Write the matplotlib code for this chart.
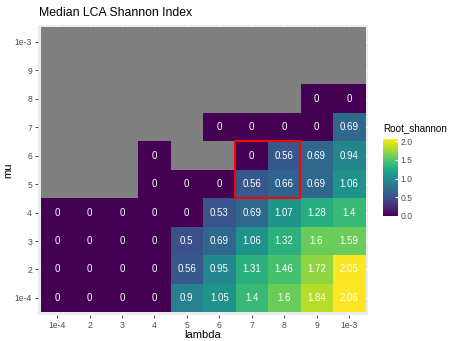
import numpy as np
import matplotlib.pyplot as plt
import matplotlib.patches as mpatches

plt.rcParams["font.family"] = ["Liberation Sans", "DejaVu Sans"]

# categories (bottom to top / left to right)
lambdas = ["1e-4", "2", "3", "4", "5", "6", "7", "8", "9", "1e-3"]
mus = ["1e-4", "2", "3", "4", "5", "6", "7", "8", "9", "1e-3"]

na = np.nan
# median root shannon per (mu, lambda); rows follow mus, columns follow lambdas
row_mu1 = [0, 0, 0, 0, 0.9, 1.05, 1.4, 1.6, 1.84, 2.06]
row_mu2 = [0, 0, 0, 0, 0.56, 0.95, 1.31, 1.46, 1.72, 2.05]
row_mu3 = [0, 0, 0, 0, 0.5, 0.69, 1.06, 1.32, 1.6, 1.59]
row_mu4 = [0, 0, 0, 0, 0, 0.53, 0.69, 1.07, 1.28, 1.4]
row_mu5 = [na, na, na, 0, 0, 0, 0.56, 0.66, 0.69, 1.06]
row_mu6 = [na, na, na, 0, na, na, 0, 0.56, 0.69, 0.94]
row_mu7 = [na, na, na, na, na, 0, 0, 0, 0, 0.69]
row_mu8 = [na, na, na, na, na, na, na, na, 0, 0]
row_mu9 = [na] * 10
row_mu10 = [na] * 10

grid = np.array([row_mu1, row_mu2, row_mu3, row_mu4, row_mu5,
                 row_mu6, row_mu7, row_mu8, row_mu9, row_mu10])

# highlighted block: lambda 7-8, mu 5-6
box_lambda = ("7", "8")
box_mu = ("5", "6")

vmax = np.nanmax(grid)

fig = plt.figure(figsize=(4.5, 3.41), dpi=100)
ax = fig.add_axes([0.0836, 0.0762, 0.7351, 0.8511])
ax.set_facecolor("#EBEBEB")

cmap = plt.get_cmap("viridis").copy()
cmap.set_bad("#7F7F7F")
data = np.ma.masked_invalid(grid)
im = ax.imshow(data, cmap=cmap, vmin=0, vmax=vmax, origin="lower",
               extent=(0.5, 10.5, 0.5, 10.5), aspect="auto",
               interpolation="nearest", zorder=2)

for i in range(len(mus)):
    for j in range(len(lambdas)):
        v = grid[i, j]
        if np.isnan(v):
            continue
        ax.text(j + 1, i + 1, f"{v:g}", ha="center", va="center",
                color="white", fontsize=7, zorder=3)

x0 = lambdas.index(box_lambda[0]) + 0.5
x1 = lambdas.index(box_lambda[1]) + 1.5
y0 = mus.index(box_mu[0]) + 0.5
y1 = mus.index(box_mu[1]) + 1.5
ax.add_patch(mpatches.Rectangle((x0, y0), x1 - x0, y1 - y0, fill=False,
                                edgecolor="red", linewidth=1.5, zorder=4))

ax.set_xlim(0.4, 10.6)
ax.set_ylim(0.4, 10.6)
ax.set_xticks(range(1, 11))
ax.set_xticklabels(lambdas)
ax.set_yticks(range(1, 11))
ax.set_yticklabels(mus)
ax.grid(True, color="white", linewidth=0.8, zorder=0)
ax.set_axisbelow(True)
for s in ax.spines.values():
    s.set_visible(False)
ax.tick_params(length=2.5, width=0.6, color="#333333", labelsize=6.2,
               labelcolor="#4D4D4D", pad=1.5)
ax.set_xlabel("lambda", fontsize=8, labelpad=0.5)
ax.set_ylabel("mu", fontsize=8, labelpad=1)
ax.set_title("Median LCA Shannon Index", fontsize=8.8, loc="left", x=0.005,
             pad=6)

cax = fig.add_axes([0.851, 0.3666, 0.0333, 0.2258])
cb = fig.colorbar(im, cax=cax, ticks=[0, 0.5, 1.0, 1.5, 2.0])
cb.outline.set_visible(False)
cb.ax.tick_params(length=2.5, color="white", direction="in", labelsize=6.2,
                  labelcolor="#4D4D4D", pad=2)
cb.ax.set_yticklabels(["0.0", "0.5", "1.0", "1.5", "2.0"])
fig.text(0.851, 0.61, "Root_shannon", fontsize=7.1, ha="left", va="bottom")

fig.savefig("out.png", dpi=100)
